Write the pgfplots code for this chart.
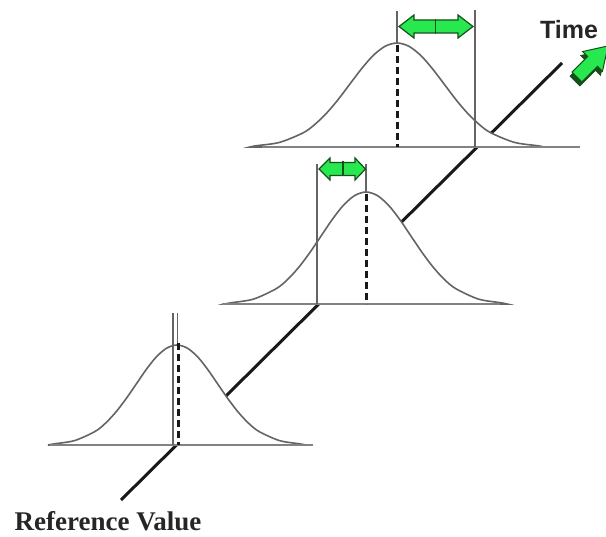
\documentclass[border=0pt]{standalone}
\usepackage{pgfplots}
\pgfplotsset{compat=1.18}
\usepackage{fontspec}
\newfontfamily\timefont{Liberation Sans}
\newfontfamily\reffont{Liberation Serif}
\definecolor{curvegray}{RGB}{100,100,100}
\definecolor{basegray}{RGB}{130,130,130}
\definecolor{arrowgreen}{RGB}{40,232,80}
\definecolor{arrowdark}{RGB}{20,80,25}
\begin{document}
\begin{tikzpicture}
\begin{axis}[
  x=1pt, y=1pt,
  xmin=0, xmax=606, ymin=0, ymax=537,
  y dir=reverse,
  hide axis,
  clip=true,
]
\path (axis cs:0,0) rectangle (axis cs:606,537);
% time axis
\addplot[black!90, line width=3pt] coordinates {(121,500) (562,63)};

% top distribution (mean 397, baseline 147)
\addplot[smooth, fill=white, draw=curvegray, line width=1.6pt] coordinates {
(250,147) (256,145.8) (279.5,142.4) (303,132.9) (314.75,124.5) (326.5,113.2)
(338.25,99.4) (350,83.9) (361.75,68.5) (373.5,55.2) (385.25,46.2) (397,43)
(408.75,46.2) (420.5,55.2) (432.25,68.5) (444,83.9) (455.75,99.4) (467.5,113.2)
(479.25,124.5) (491,132.9) (514.5,142.4) (538,145.8) (544,147)} -- cycle;
% middle distribution (mean 366, baseline 304)
\addplot[smooth, fill=white, draw=curvegray, line width=1.6pt] coordinates {
(225,304) (231,302.8) (253.5,299.1) (276,288.8) (287.25,279.8) (298.5,267.6)
(309.75,252.7) (321,236.1) (332.25,219.5) (343.5,205.2) (354.75,195.5) (366,192)
(377.25,195.5) (388.5,205.2) (399.75,219.5) (411,236.1) (422.25,252.7) (433.5,267.6)
(444.75,279.8) (456,288.8) (478.5,299.1) (501,302.8) (507,304)} -- cycle;
% bottom distribution (mean 177, baseline 445)
\addplot[smooth, fill=white, draw=curvegray, line width=1.6pt] coordinates {
(48,445) (54,443.9) (74.5,440.6) (95,431.5) (105.25,423.4) (115.5,412.5)
(125.75,399.2) (136,384.4) (146.25,369.5) (156.5,356.7) (166.75,348.1) (177,345)
(187.25,348.1) (197.5,356.7) (207.75,369.5) (218,384.4) (228.25,399.2) (238.5,412.5)
(248.75,423.4) (259,431.5) (279.5,440.6) (300,443.9) (306,445)} -- cycle;

% baselines
\addplot[basegray, line width=2.6pt] coordinates {(262,147) (580,147)};
\addplot[basegray, line width=2.6pt] coordinates {(222,304) (500,304)};
\addplot[basegray, line width=2.6pt] coordinates {(50,445) (313,445)};

% reference (solid) lines
\addplot[curvegray, line width=1.4pt] coordinates {(475,10) (475,147)};
\addplot[curvegray, line width=1.4pt] coordinates {(397,11) (397,43)};
\addplot[curvegray, line width=1.4pt] coordinates {(317,164) (317,304)};
\addplot[curvegray, line width=1.4pt] coordinates {(366,164) (366,192)};
\addplot[curvegray, line width=1.4pt] coordinates {(173,313) (173,445)};
\addplot[curvegray, line width=1.4pt] coordinates {(177.5,313) (177.5,343)};

% mean (dashed) lines
\addplot[black!90, line width=3pt, dash pattern=on 7pt off 4pt] coordinates {(397,45) (397,147)};
\addplot[black!90, line width=3pt, dash pattern=on 7pt off 4pt] coordinates {(366,194) (366,304)};
\addplot[black!90, line width=3pt, dash pattern=on 7pt off 4pt] coordinates {(178.5,343) (178.5,445)};

% green double arrows
\draw[fill=arrowgreen, draw=arrowdark, line width=1.2pt]
  (axis cs:399,26.5) -- (axis cs:414,15) -- (axis cs:414,20) -- (axis cs:458,20)
  -- (axis cs:458,15) -- (axis cs:473,26.5) -- (axis cs:458,38) -- (axis cs:458,33)
  -- (axis cs:414,33) -- (axis cs:414,38) -- cycle;
\draw[arrowdark, line width=1.5pt] (axis cs:435.5,19) -- (axis cs:435.5,34);
\draw[fill=arrowgreen, draw=arrowdark, line width=1.2pt]
  (axis cs:319,169) -- (axis cs:330,158) -- (axis cs:330,162.5) -- (axis cs:355,162.5)
  -- (axis cs:355,158) -- (axis cs:365.5,169) -- (axis cs:355,180) -- (axis cs:355,175.5)
  -- (axis cs:330,175.5) -- (axis cs:330,180) -- cycle;
\draw[arrowdark, line width=1.5pt] (axis cs:343,161.5) -- (axis cs:343,176.5);

% time block arrow (3D)
\draw[fill=arrowdark, draw=arrowdark, line width=0.8pt]
  (axis cs:579.95,85.95) -- (axis cs:595.51,70.39) -- (axis cs:600.46,75.34)
  -- (axis cs:606.1,49.9) -- (axis cs:580.66,55.54) -- (axis cs:585.61,60.49)
  -- (axis cs:570.05,76.05) -- cycle;
\draw[fill=arrowgreen, draw=arrowdark, line width=1pt]
  (axis cs:581.95,81.95) -- (axis cs:597.51,66.39) -- (axis cs:602.46,71.34)
  -- (axis cs:608.1,45.9) -- (axis cs:582.66,51.54) -- (axis cs:587.61,56.49)
  -- (axis cs:572.05,72.05) -- cycle;

% labels
\node[font=\timefont\bfseries\fontsize{25}{28}\selectfont, text=black!85]
  at (axis cs:569,30) {Time};
\node[font=\reffont\bfseries\fontsize{27}{30}\selectfont, text=black!85]
  at (axis cs:108,521) {Reference Value};
\end{axis}
\end{tikzpicture}
\end{document}
